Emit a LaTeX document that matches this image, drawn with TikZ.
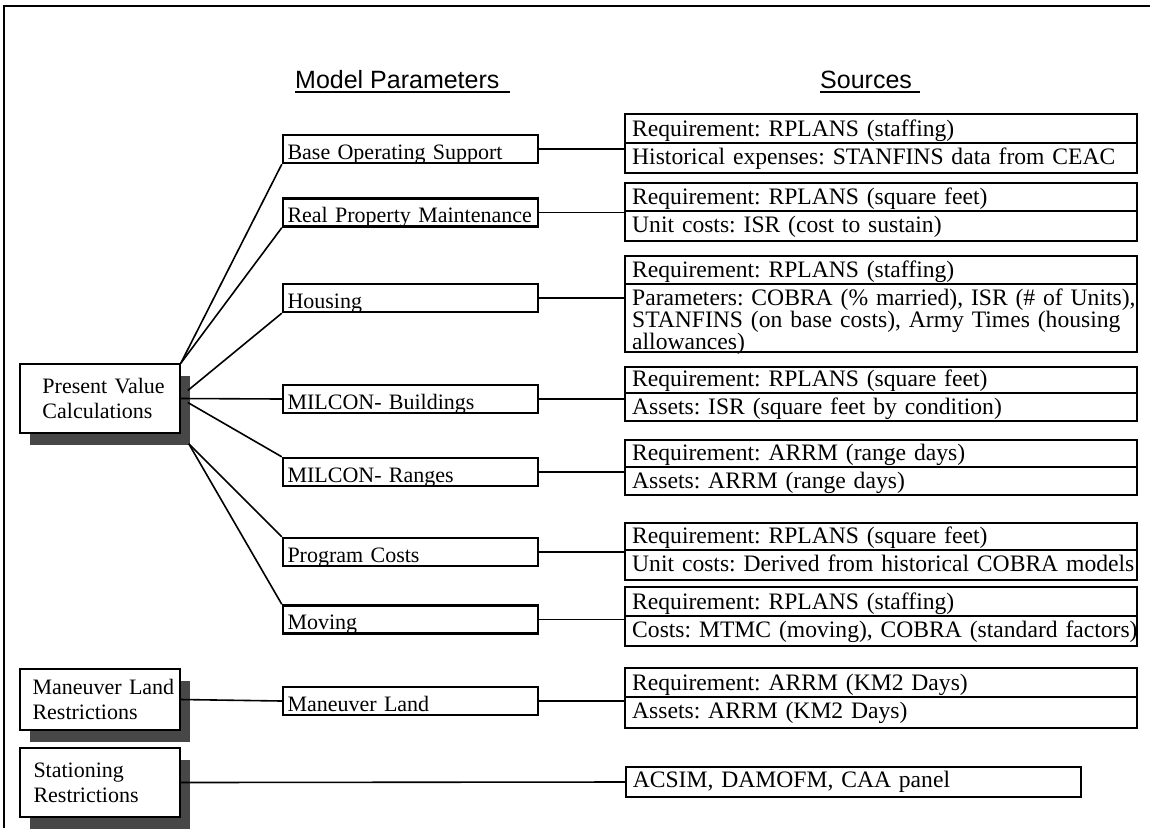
\documentclass[tikz,border=0pt]{standalone}
\usepackage{fontspec}
\setmainfont{Liberation Serif}
\newfontfamily\headfont{Liberation Sans}
\usetikzlibrary{positioning,shadows}
\frenchspacing

\tikzset{
  leftbox/.style={draw, line width=1.6pt, fill=white, text width=155pt, inner xsep=2.5pt, align=left,
    font=\fontsize{22}{25}\selectfont,
    drop shadow={shadow xshift=10pt, shadow yshift=-12pt, fill=black!72, opacity=1}},
  midbox/.style={draw, line width=2.4pt, minimum width=255pt, minimum height=28pt, text width=246pt,
    inner xsep=4.5pt, inner ysep=0pt, align=left, text height=20pt, text depth=0pt,
    font=\fontsize{22}{24}\selectfont},
  srcbox/.style={draw, line width=1.6pt, minimum width=512pt, inner sep=0pt},
  srctext/.style={anchor=base west, inner sep=0pt, text width=560pt, align=left,
    font=\fontsize{23.6}{18}\selectfont},
  conn/.style={line width=1.6pt},
  heading/.style={anchor=base west, inner sep=0pt, font=\headfont\fontsize{25}{28}\selectfont}
}

\begin{document}
\begin{tikzpicture}[x=1pt,y=-1pt]
\useasboundingbox (0,0) rectangle (1150,828);
\draw[line width=1.6pt] (1150,6) -- (4,6) -- (4,828);

\node[heading] (mp) at (295,88) {Model Parameters};
\draw[line width=1.4pt] ([yshift=-4pt]mp.base west) -- ([xshift=10pt,yshift=-4pt]mp.base east);
\node[heading] (so) at (820,88) {Sources};
\draw[line width=1.4pt] ([yshift=-4pt]so.base west) -- ([xshift=8pt,yshift=-4pt]so.base east);

\node[leftbox, minimum height=69pt] (pvc) at (100,398.5) {\hspace*{20pt}Present Value\\\hspace*{20pt}Calculations};
\node[leftbox, minimum height=61pt] (mlr) at (100,699.5) {\hspace*{10pt}Maneuver Land\\\hspace*{10pt}Restrictions};
\node[leftbox, minimum height=69pt] (stn) at (100,782.5) {\hspace*{11pt}Stationing\\\hspace*{11pt}Restrictions};

\node[midbox] (bos) at (410.5,149) {Base Operating Support};
\node[midbox] (rpm) at (410.5,212.5) {Real Property Maintenance};
\node[midbox] (hou) at (410.5,298) {Housing};
\node[midbox] (mcb) at (410.5,399) {MILCON- Buildings};
\node[midbox] (mcr) at (410.5,472) {MILCON- Ranges};
\node[midbox] (prc) at (410.5,552) {Program Costs};
\node[midbox] (mov) at (410.5,619.5) {Moving};
\node[midbox] (mnl) at (410.5,701) {Maneuver Land};

\foreach \n/\t/\d/\b/\ta/\tb in {
  1/114/143/173/{Requirement: RPLANS (staffing)}/{Historical expenses: STANFINS data from CEAC},
  2/183/211/241/{Requirement: RPLANS (square feet)}/{Unit costs: ISR (cost to sustain)},
  3/256/284/352/{Requirement: RPLANS (staffing)}/{Parameters: COBRA (\% married), ISR (\# of Units),\\STANFINS (on base costs), Army Times (housing\\allowances)},
  4/367/393/421/{Requirement: RPLANS (square feet)}/{Assets: ISR (square feet by condition)},
  5/440/467/495/{Requirement: ARRM (range days)}/{Assets: ARRM (range days)},
  6/523/550/580/{Requirement: RPLANS (square feet)}/{Unit costs: Derived from historical COBRA models},
  7/587/616/646/{Requirement: RPLANS (staffing)}/{Costs: MTMC (moving), COBRA (standard factors)},
  8/668/697/728/{Requirement: ARRM (KM2 Days)}/{Assets: ARRM (KM2 Days)}}{
  \node[srcbox, minimum height={(\b-\t)*1pt}] (src\n) at (881,{(\t+\b)/2}) {};
  \draw[conn] (625,\d) -- (1137,\d);
  \node[srctext] (req\n) at (632,\d-7) {\ta};
  \node[srctext] (par\n) at (632,\d+21) {\tb};
}
\node[draw, line width=1.6pt, anchor=west, minimum width=455pt, minimum height=30pt, text width=441pt,
  inner xsep=7pt, align=left, font=\fontsize{23.6}{26}\selectfont] (acs) at (625,782) {ACSIM, DAMOFM, CAA panel};

\draw[conn] (pvc.north east) -- (bos.south west);
\draw[conn] (pvc.north east) -- (rpm.south west);
\draw[conn] ([xshift=7pt,yshift=8pt]pvc.east) -- (hou.south west);
\draw[conn] (pvc.east) -- (mcb.west);
\draw[conn] ([xshift=7pt,yshift=-4pt]pvc.east) -- (mcr.north west);
\draw[conn] ([xshift=8pt,yshift=-10pt]pvc.south east) -- (prc.north west);
\draw[conn] ([xshift=8pt,yshift=-10pt]pvc.south east) -- (mov.north west);
\draw[conn] (mlr.east) -- (mnl.west);
\draw[conn] (stn.east) -- (acs.west);
\foreach \m/\n in {bos/1,rpm/2,hou/3,mcb/4,mcr/5,prc/6,mov/7,mnl/8}
  \draw[conn] (\m.east) -- (\m.east -| src\n.west);
\end{tikzpicture}
\end{document}
